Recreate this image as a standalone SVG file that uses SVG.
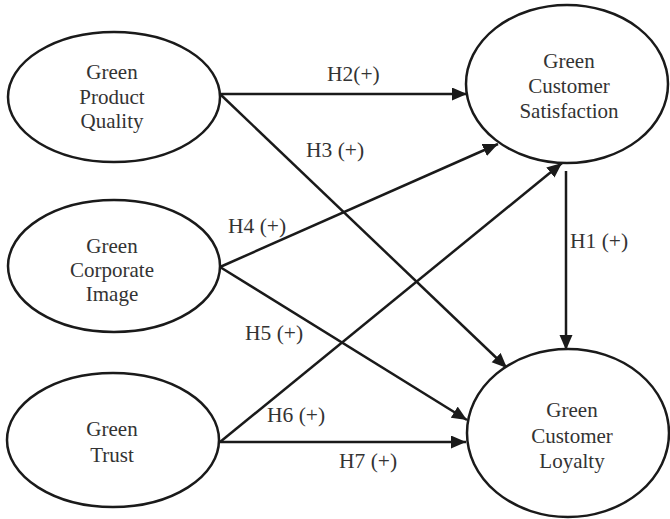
<svg xmlns="http://www.w3.org/2000/svg" width="670" height="519" viewBox="0 0 670 519">
<defs>
<marker id="arr" markerUnits="userSpaceOnUse" markerWidth="16" markerHeight="14" refX="15" refY="6.5" orient="auto">
<path d="M0,0 L15,6.5 L0,13 z" fill="#1a1a1a"/>
</marker>
<style>
.node ellipse{fill:#fff;stroke:#1a1a1a;stroke-width:2.5}
.node text{font-family:"Liberation Serif","Times New Roman",serif;font-size:21px;fill:#333;text-anchor:middle}
.edge line{stroke:#1a1a1a;stroke-width:2.5;marker-end:url(#arr)}
.lbl{font-family:"Liberation Serif","Times New Roman",serif;font-size:21.5px;fill:#333}
</style>
</defs>
<rect width="670" height="519" fill="#fff"/>
<g id="connectors" class="edge">
<line x1="220" y1="94" x2="467" y2="94"/>
<line x1="220" y1="94" x2="507" y2="368"/>
<line x1="220" y1="267" x2="498" y2="144"/>
<line x1="220" y1="267" x2="467" y2="420"/>
<line x1="220" y1="442" x2="562" y2="163"/>
<line x1="220" y1="442" x2="466" y2="442"/>
<line x1="566" y1="171" x2="566" y2="350"/>
</g>
<g id="labels">
<text class="lbl" x="327" y="81">H2(+)</text>
<text class="lbl" x="306" y="157">H3 (+)</text>
<text class="lbl" x="570" y="248">H1 (+)</text>
<text class="lbl" x="228" y="233">H4 (+)</text>
<text class="lbl" x="245" y="340">H5 (+)</text>
<text class="lbl" x="267" y="422">H6 (+)</text>
<text class="lbl" x="339" y="468">H7 (+)</text>
</g>
<g id="gpq" class="node">
<ellipse cx="114" cy="97" rx="106" ry="65"/>
<text x="112" y="79">Green</text>
<text x="112" y="104">Product</text>
<text x="112" y="128">Quality</text>
</g>
<g id="gci" class="node">
<ellipse cx="114" cy="266" rx="106" ry="66"/>
<text x="112" y="253">Green</text>
<text x="112" y="277">Corporate</text>
<text x="112" y="301">Image</text>
</g>
<g id="gt" class="node">
<ellipse cx="113" cy="440" rx="106" ry="67"/>
<text x="112" y="436">Green</text>
<text x="112" y="462">Trust</text>
</g>
<g id="gcs" class="node">
<ellipse cx="567" cy="84" rx="101" ry="79"/>
<text x="569" y="68">Green</text>
<text x="569" y="93">Customer</text>
<text x="569" y="118">Satisfaction</text>
</g>
<g id="gcl" class="node">
<ellipse cx="568" cy="433" rx="101" ry="84"/>
<text x="572" y="417">Green</text>
<text x="572" y="443">Customer</text>
<text x="572" y="468">Loyalty</text>
</g>
</svg>
